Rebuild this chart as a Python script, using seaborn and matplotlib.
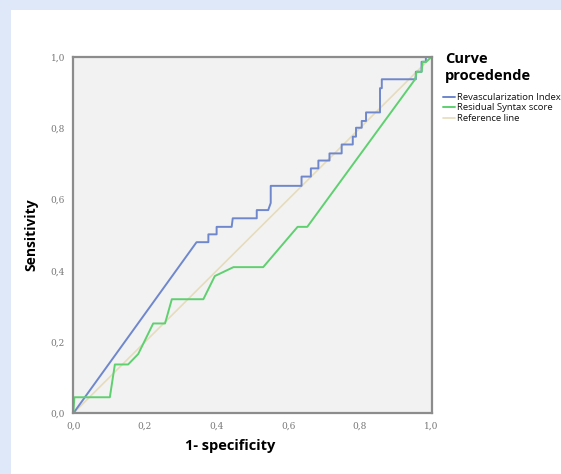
import matplotlib
matplotlib.use("Agg")
import matplotlib.pyplot as plt
import seaborn as sns

# ROC curve points (1 - specificity, sensitivity)
revasc_fpr = [0.0, 0.344, 0.377, 0.377, 0.400, 0.400, 0.442, 0.445, 0.512, 0.512,
              0.544, 0.551, 0.551, 0.637, 0.637, 0.663, 0.663, 0.684, 0.684, 0.715,
              0.715, 0.749, 0.749, 0.780, 0.780, 0.789, 0.789, 0.805, 0.805, 0.817,
              0.817, 0.856, 0.856, 0.861, 0.861, 0.956, 0.956, 0.972, 0.972, 0.984,
              0.984, 1.0]
revasc_tpr = [0.0, 0.480, 0.480, 0.502, 0.502, 0.523, 0.523, 0.547, 0.547, 0.570,
              0.570, 0.590, 0.638, 0.638, 0.664, 0.664, 0.687, 0.687, 0.709, 0.709,
              0.729, 0.729, 0.754, 0.754, 0.776, 0.776, 0.801, 0.801, 0.820, 0.820,
              0.844, 0.844, 0.912, 0.912, 0.937, 0.937, 0.958, 0.958, 0.986, 0.986,
              1.0, 1.0]

syntax_fpr = [0.0, 0.003, 0.102, 0.116, 0.153, 0.181, 0.223, 0.256, 0.275, 0.363,
              0.395, 0.447, 0.530, 0.626, 0.653, 0.954, 0.958, 0.972, 0.975, 0.985,
              1.0]
syntax_tpr = [0.0, 0.045, 0.045, 0.137, 0.137, 0.166, 0.252, 0.252, 0.320, 0.320,
              0.385, 0.410, 0.410, 0.523, 0.523, 0.937, 0.958, 0.958, 0.986, 0.986,
              1.0]

ref_x = [0.0, 1.0]
ref_y = [0.0, 1.0]

ticks = [0.0, 0.2, 0.4, 0.6, 0.8, 1.0]
tick_labels = ["0,0", "0,2", "0,4", "0,6", "0,8", "1,0"]

sns.set_style("white")
plt.rcParams["font.family"] = ["Open Sans", "DejaVu Sans"]

fig = plt.figure(figsize=(5.61, 4.74), dpi=100)
fig.patch.set_facecolor("#dfe8f8")

# white panel behind the chart
bg = fig.add_axes([11 / 561, 0, 1 - 11 / 561, 1 - 9.5 / 474], zorder=-1)
bg.set_facecolor("white")
bg.set_xticks([])
bg.set_yticks([])
for s in bg.spines.values():
    s.set_visible(False)

ax = fig.add_axes([73.3 / 561, 1 - 413.3 / 474, 358.3 / 561, 356.5 / 474])
ax.set_facecolor("#f2f2f2")

sns.lineplot(x=revasc_fpr, y=revasc_tpr, sort=False, estimator=None, ax=ax,
             color="#6f87cc", linewidth=1.4, label="Revascularization Index")
sns.lineplot(x=syntax_fpr, y=syntax_tpr, sort=False, estimator=None, ax=ax,
             color="#5fd070", linewidth=1.4, label="Residual Syntax score")
sns.lineplot(x=ref_x, y=ref_y, sort=False, estimator=None, ax=ax,
             color="#e6dcbc", linewidth=1.2, label="Reference line", zorder=1)

ax.set_xlim(0, 1)
ax.set_ylim(0, 1)
ax.set_xticks(ticks)
ax.set_xticklabels(tick_labels)
ax.set_yticks(ticks)
ax.set_yticklabels(tick_labels)
ax.tick_params(axis="both", direction="out", length=4, width=1.2, color="#888888",
               labelsize=6.5, labelcolor="#777777", pad=2)
for lbl in ax.get_xticklabels() + ax.get_yticklabels():
    lbl.set_family("DejaVu Serif")
for s in ax.spines.values():
    s.set_color("#8c8c8c")
    s.set_linewidth(1.6)

ax.set_xlabel("1- specificity", fontsize=10.5, fontweight="bold", color="black")
ax.xaxis.set_label_coords(0.437, -0.072)
ax.set_ylabel("Sensitivity", fontsize=10, fontweight="bold", labelpad=9, color="black")

# legend title drawn separately so its spacing matches the original
fig.text(445 / 561, 1 - 52 / 474, "Curve\nprocedende", fontsize=10.5,
         fontweight="bold", va="top", ha="left", linespacing=1.25, color="black")
leg = ax.legend(loc="upper left", bbox_to_anchor=(443 / 561, 1 - 93 / 474),
                bbox_transform=fig.transFigure, frameon=False, fontsize=6.8,
                handlelength=1.3, handletextpad=0.2, labelspacing=0.15,
                borderaxespad=0, borderpad=0)
for t in leg.get_texts():
    t.set_color("#111111")

fig.savefig("out.png", dpi=100, facecolor=fig.get_facecolor())
